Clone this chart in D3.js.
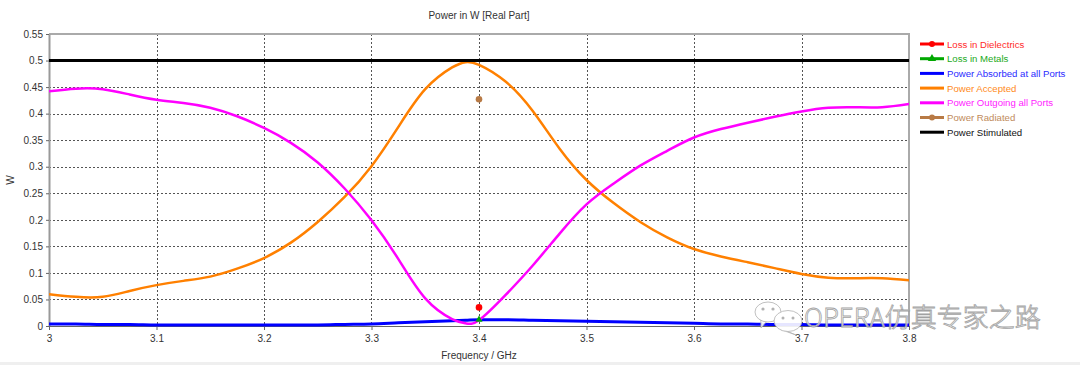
<!DOCTYPE html>
<html>
<head>
<meta charset="utf-8">
<script src="https://cdn.jsdelivr.net/npm/d3@7/dist/d3.min.js"></script>
<style>
  html, body { margin: 0; padding: 0; background: #fff; }
  svg { display: block; }
</style>
</head>
<body>
<div id="chart"></div>
<script>
// ---------- data ----------
const freq = [3.000, 3.025, 3.050, 3.075, 3.100, 3.125, 3.150, 3.175, 3.200, 3.225,
              3.250, 3.275, 3.300, 3.325, 3.350, 3.375, 3.3875, 3.400, 3.425, 3.450,
              3.475, 3.500, 3.525, 3.550, 3.575, 3.600, 3.625, 3.650, 3.675, 3.700,
              3.725, 3.750, 3.775, 3.800];
const powerOutgoing = [0.442, 0.447, 0.446, 0.436, 0.426, 0.420, 0.411, 0.395, 0.373, 0.345,
                       0.308, 0.259, 0.199, 0.126, 0.052, 0.013, 0.005, 0.011, 0.059, 0.114,
                       0.174, 0.229, 0.268, 0.302, 0.330, 0.355, 0.371, 0.383, 0.394, 0.404,
                       0.411, 0.412, 0.412, 0.418];
const powerAccepted = [0.060, 0.055, 0.055, 0.066, 0.077, 0.085, 0.093, 0.108, 0.128, 0.157,
                       0.196, 0.243, 0.301, 0.375, 0.446, 0.487, 0.497, 0.492, 0.460, 0.405,
                       0.334, 0.275, 0.232, 0.196, 0.167, 0.145, 0.131, 0.120, 0.109, 0.098,
                       0.091, 0.090, 0.090, 0.086];
const powerAbsorbed = [0.004, 0.004, 0.003, 0.003, 0.002, 0.002, 0.002, 0.002, 0.002, 0.002,
                       0.002, 0.003, 0.004, 0.006, 0.008, 0.010, 0.011, 0.012, 0.012, 0.011,
                       0.010, 0.009, 0.008, 0.007, 0.006, 0.005, 0.004, 0.004, 0.003, 0.003,
                       0.002, 0.002, 0.002, 0.002];
const powerStimulated = [0.5, 0.5];
const stimulatedFreq = [3.0, 3.8];
const pointFreq = [3.4];
const lossDielectrics = [0.035];
const lossMetals = [0.012];
const powerRadiated = [0.427];

const xTicks = [3.0, 3.1, 3.2, 3.3, 3.4, 3.5, 3.6, 3.7, 3.8];
const xTickLabels = ["3", "3.1", "3.2", "3.3", "3.4", "3.5", "3.6", "3.7", "3.8"];
const yTicks = [0, 0.05, 0.1, 0.15, 0.2, 0.25, 0.3, 0.35, 0.4, 0.45, 0.5, 0.55];
const yTickLabels = ["0", "0.05", "0.1", "0.15", "0.2", "0.25", "0.3", "0.35", "0.4", "0.45", "0.5", "0.55"];

const legendNames = ["Loss in Dielectrics", "Loss in Metals", "Power Absorbed at all Ports",
                     "Power Accepted", "Power Outgoing all Ports", "Power Radiated", "Power Stimulated"];
const legendColors = ["#ff0000", "#00a800", "#0000ff", "#ff8000", "#ff00ff", "#b87a45", "#000000"];
const legendTextColors = ["#ff2a2a", "#22aa22", "#2a2aff", "#ff8a1a", "#ff22ff", "#c08a5a", "#111111"];
const legendMarkers = ["circle", "triangle", "none", "none", "none", "circle", "none"];

// ---------- chart ----------
const W = 1080, H = 365;
const FONT = "'Liberation Sans', Arial, sans-serif";
const svg = d3.select("#chart").append("svg").attr("width", W).attr("height", H)
  .style("font-family", FONT);

const x = d3.scaleLinear().domain([3.0, 3.8]).range([49, 909]);
const y = d3.scaleLinear().domain([0, 0.55]).range([326, 34]);

// bottom light band
svg.append("rect").attr("x", 0).attr("y", 362).attr("width", W).attr("height", 3).attr("fill", "#efefef");

// title
svg.append("text").attr("x", 479).attr("y", 19).attr("text-anchor", "middle")
  .attr("font-size", 10).attr("fill", "#333").text("Power in W [Real Part]");

// grid
const grid = svg.append("g");
grid.selectAll("line.v").data(xTicks.slice(1, -1)).enter().append("line")
  .attr("x1", d => Math.round(x(d)) + 0.5).attr("x2", d => Math.round(x(d)) + 0.5)
  .attr("y1", 34).attr("y2", 326)
  .attr("stroke", "#555").attr("stroke-width", 1).attr("stroke-dasharray", "2,2");
grid.selectAll("line.h").data(yTicks.slice(1, -1)).enter().append("line")
  .attr("y1", d => Math.round(y(d)) + 0.5).attr("y2", d => Math.round(y(d)) + 0.5)
  .attr("x1", 49).attr("x2", 909)
  .attr("stroke", "#555").attr("stroke-width", 1).attr("stroke-dasharray", "2,2");

// frame top & right
svg.append("line").attr("x1", 49).attr("x2", 910).attr("y1", 34).attr("y2", 34)
  .attr("stroke", "#aaa").attr("stroke-width", 2);
svg.append("line").attr("x1", 909).attr("x2", 909).attr("y1", 34).attr("y2", 326)
  .attr("stroke", "#aaa").attr("stroke-width", 2);

// axes
const yAxis = svg.append("g").attr("transform", "translate(49,0)")
  .call(d3.axisLeft(y).tickValues(yTicks).tickFormat((d, i) => yTickLabels[i])
        .tickSize(3).tickSizeOuter(0).tickPadding(3));
yAxis.select(".domain").attr("stroke", "#999").attr("stroke-width", 2);
yAxis.selectAll(".tick line").attr("stroke", "#666");
yAxis.selectAll(".tick text").attr("font-size", 10).attr("fill", "#333").style("font-family", FONT);

const xAxis = svg.append("g").attr("transform", "translate(0,326)")
  .call(d3.axisBottom(x).tickValues(xTicks).tickFormat((d, i) => xTickLabels[i])
        .tickSize(4).tickSizeOuter(0).tickPadding(5));
xAxis.select(".domain").attr("stroke", "#666").attr("stroke-width", 1);
xAxis.selectAll(".tick line").attr("stroke", "#666");
xAxis.selectAll(".tick text").attr("font-size", 10).attr("fill", "#333").style("font-family", FONT);

// axis titles
svg.append("text").attr("x", 479).attr("y", 359).attr("text-anchor", "middle")
  .attr("font-size", 10).attr("fill", "#333").text("Frequency / GHz");
svg.append("text").attr("transform", "translate(14,180) rotate(-90)").attr("text-anchor", "middle")
  .attr("font-size", 10).attr("fill", "#333").text("W");

// clip
svg.append("clipPath").attr("id", "plotclip").append("rect")
  .attr("x", 49).attr("y", 30).attr("width", 860).attr("height", 300);
const plot = svg.append("g").attr("clip-path", "url(#plotclip)");

const line = d3.line().x(d => x(d[0])).y(d => y(d[1])).curve(d3.curveNatural);
const flat = d3.line().x(d => x(d[0])).y(d => y(d[1])).curve(d3.curveMonotoneX);

plot.append("path").datum(freq.map((f, i) => [f, powerAbsorbed[i]]))
  .attr("d", flat).attr("fill", "none").attr("stroke", legendColors[2]).attr("stroke-width", 3);
plot.append("path").datum(freq.map((f, i) => [f, powerAccepted[i]]))
  .attr("d", line).attr("fill", "none").attr("stroke", legendColors[3]).attr("stroke-width", 2.5);
plot.append("path").datum(freq.map((f, i) => [f, powerOutgoing[i]]))
  .attr("d", line).attr("fill", "none").attr("stroke", legendColors[4]).attr("stroke-width", 2.5);
plot.append("path").datum(stimulatedFreq.map((f, i) => [f, powerStimulated[i]]))
  .attr("d", flat).attr("fill", "none").attr("stroke", legendColors[6]).attr("stroke-width", 3);

// single-point series
plot.selectAll("circle.diel").data(pointFreq.map((f, i) => [f, lossDielectrics[i]])).enter()
  .append("circle").attr("cx", d => x(d[0])).attr("cy", d => y(d[1])).attr("r", 3.3)
  .attr("fill", legendColors[0]);
plot.selectAll("path.metal").data(pointFreq.map((f, i) => [f, lossMetals[i]])).enter()
  .append("path").attr("d", d3.symbol(d3.symbolTriangle, 22))
  .attr("transform", d => `translate(${x(d[0])},${y(d[1])})`).attr("fill", legendColors[1]);
plot.selectAll("circle.rad").data(pointFreq.map((f, i) => [f, powerRadiated[i]])).enter()
  .append("circle").attr("cx", d => x(d[0])).attr("cy", d => y(d[1])).attr("r", 3.3)
  .attr("fill", legendColors[5]);

// legend
const legend = svg.append("g");
const rowY = i => 44 + i * 14.7;
legendNames.forEach((name, i) => {
  const g = legend.append("g");
  g.append("line").attr("x1", 920).attr("x2", 944).attr("y1", rowY(i)).attr("y2", rowY(i))
    .attr("stroke", legendColors[i]).attr("stroke-width", 3);
  if (legendMarkers[i] === "circle") {
    g.append("circle").attr("cx", 932).attr("cy", rowY(i)).attr("r", 3).attr("fill", legendColors[i]);
  } else if (legendMarkers[i] === "triangle") {
    g.append("path").attr("d", d3.symbol(d3.symbolTriangle, 30))
      .attr("transform", `translate(932,${rowY(i)})`).attr("fill", legendColors[i]);
  }
  g.append("text").attr("x", 947).attr("y", rowY(i) + 3.5).attr("font-size", 9.6)
    .attr("fill", legendTextColors[i]).text(name);
});

// watermark
const wm = svg.append("g").attr("opacity", 0.9);
const bubble = (cx, cy, rx, ry, tailX, tailY) => {
  wm.append("path")
    .attr("d", `M${cx - rx * 0.55},${cy + ry * 0.8} L${tailX},${tailY} L${cx - rx * 0.1},${cy + ry * 0.95} Z`)
    .attr("fill", "#fff").attr("stroke", "#aaa").attr("stroke-width", 0.8);
  wm.append("ellipse").attr("cx", cx).attr("cy", cy).attr("rx", rx).attr("ry", ry)
    .attr("fill", "#fff").attr("stroke", "#aaa").attr("stroke-width", 0.8);
};
bubble(768, 312, 13, 10, 761, 328);
wm.append("circle").attr("cx", 763).attr("cy", 309).attr("r", 1.6).attr("fill", "#aaa");
wm.append("circle").attr("cx", 773).attr("cy", 309).attr("r", 1.6).attr("fill", "#aaa");
bubble(788, 321, 14, 10.5, 796, 335);
wm.append("circle").attr("cx", 783).attr("cy", 318).attr("r", 1.5).attr("fill", "#aaa");
wm.append("circle").attr("cx", 793).attr("cy", 318).attr("r", 1.5).attr("fill", "#aaa");
wm.append("text").attr("x", 804).attr("y", 327).attr("font-size", 26)
  .style("font-family", "'Noto Sans CJK SC', sans-serif").style("font-weight", 300)
  .attr("fill", "#fff").attr("stroke", "#999").attr("stroke-width", 0.8)
  .text("OPERA仿真专家之路");
</script>
</body>
</html>
